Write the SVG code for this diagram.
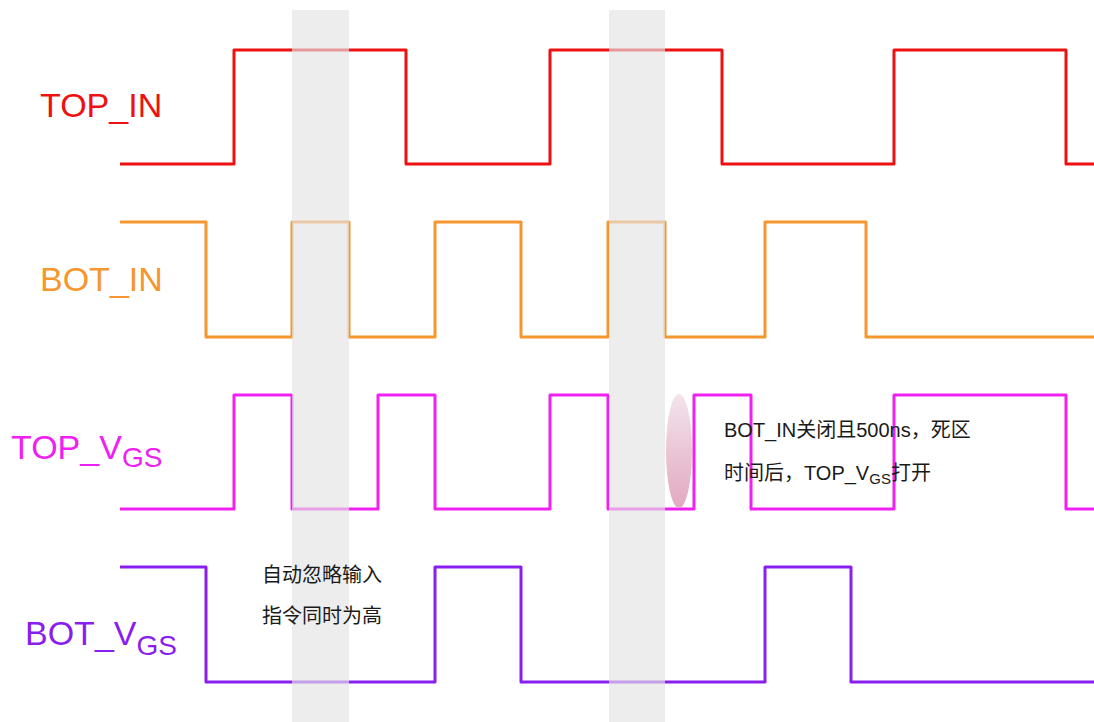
<svg xmlns="http://www.w3.org/2000/svg" width="1094" height="722" viewBox="0 0 1094 722">
<defs>
<style>
.w{fill:none;stroke-width:3;stroke-linejoin:round}
.lbl{font-family:"Liberation Sans",Arial,sans-serif;font-size:34px}
.sub{font-size:28px}
.note{font-family:"Liberation Sans","Noto Sans CJK SC",sans-serif;font-size:20px;fill:#1a1a1a}
.nsub{font-size:15px}
.band{fill:#e4e4e4;opacity:0.65}
</style>
<linearGradient id="eg" x1="0" y1="0" x2="0" y2="1">
<stop offset="0" stop-color="#f3e4ea"/>
<stop offset="1" stop-color="#e2a9c0"/>
</linearGradient>
</defs>
<rect width="1094" height="722" fill="#ffffff"/>
<g id="waveforms">
<g id="top_in">
<path class="w" stroke="#ee1111" d="M120,164 H234 V50 H406 V164 H550 V50 H722 V164 H894 V50 H1066 V164 H1094"/>
<text class="lbl" fill="#ee1111" x="40" y="117">TOP_IN</text>
</g>
<g id="bot_in">
<path class="w" stroke="#f5962e" d="M120,222 H206 V337 H292 V222 H349 V337 H435 V222 H521 V337 H608 V222 H665 V337 H765 V222 H866 V337 H1094"/>
<text class="lbl" fill="#f5962e" x="40" y="291">BOT_IN</text>
</g>
<g id="top_vgs">
<path class="w" stroke="#f020f0" d="M120,509 H234 V395 H292 V509 H378 V395 H435 V509 H550 V395 H608 V509 H694 V395 H751 V509 H894 V395 H1066 V509 H1094"/>
<text class="lbl" fill="#f020f0" x="11" y="459">TOP_V<tspan class="sub" dy="8">GS</tspan></text>
</g>
<g id="bot_vgs">
<path class="w" stroke="#8a1ef0" d="M120,567 H206 V682 H435 V567 H521 V682 H765 V567 H851 V682 H1094"/>
<text class="lbl" fill="#8a1ef0" x="25" y="645">BOT_V<tspan class="sub" dy="10">GS</tspan></text>
</g>
</g>
<g id="bands">
<rect class="band" x="292" y="10" width="57" height="712"/>
<rect class="band" x="609" y="10" width="56" height="712"/>
</g>
<g id="marker">
<ellipse cx="679" cy="451" rx="13" ry="57" fill="url(#eg)"/>
</g>
<g id="note_deadtime">
<text class="note" x="724" y="437">BOT_IN关闭且500ns，死区</text>
<text class="note" x="724" y="480">时间后，TOP_V<tspan class="nsub" dy="4">GS</tspan><tspan dy="-4">打开</tspan></text>
</g>
<g id="note_ignore">
<text class="note" x="262" y="582">自动忽略输入</text>
<text class="note" x="262" y="623">指令同时为高</text>
</g>
</svg>
